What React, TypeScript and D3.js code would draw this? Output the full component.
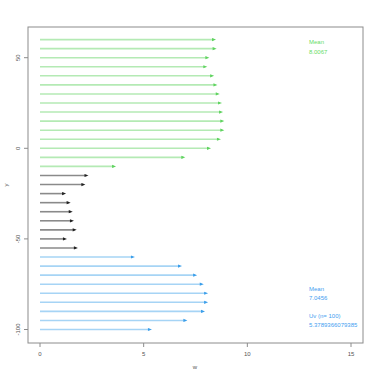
import React from "react";
import * as d3 from "d3";

const greenY = [60, 55, 50, 45, 40, 35, 30, 25, 20, 15, 10, 5, 0, -5, -10];
const greenX = [8.44, 8.47, 8.12, 8.02, 8.35, 8.51, 8.62, 8.73, 8.78, 8.84, 8.84, 8.68, 8.2, 6.96, 3.62];
const blackY = [-15, -20, -25, -30, -35, -40, -45, -50, -55];
const blackX = [2.29, 2.14, 1.21, 1.43, 1.53, 1.59, 1.72, 1.25, 1.78];
const blueY = [-60, -65, -70, -75, -80, -85, -90, -95, -100];
const blueX = [4.53, 6.8, 7.53, 7.85, 8.06, 8.06, 7.91, 7.06, 5.35];
const xTicks = [0, 5, 10, 15];
const yTicks = [50, 0, -50, -100];
const greenLabels = ["Mean", "8.0067"];
const blueLabels = ["Mean", "7.0456", "", "Uv (n= 100)", "5.3789366079385"];

export default function App() {
  const x = d3.scaleLinear().domain([0, 15]).range([40, 351]);
  const y = d3.scaleLinear().domain([0, 50]).range([148.3, 57.7]);
  const left = 28, right = 363, top = 27, bottom = 343;
  const font = "Liberation Sans, Arial, sans-serif";

  const series = [
    { ys: greenY, xs: greenX, line: "#b4eab4", head: "#5fd35f" },
    { ys: blackY, xs: blackX, line: "#8a8a8a", head: "#222" },
    { ys: blueY, xs: blueX, line: "#a6d4f5", head: "#3a9eea" },
  ];

  return (
    <svg width={378} height={378} style={{ position: "absolute", left: 0, top: 0 }}>
      <rect x={0} y={0} width={378} height={378} fill="#fff" />
      {series.map((s, si) =>
        s.ys.map((v, i) => {
          const x1 = x(0), x2 = x(s.xs[i]), yy = y(v);
          return (
            <g key={si + "-" + i}>
              <line x1={x1} x2={x2 - 1} y1={yy} y2={yy} stroke={s.line} strokeWidth={1.6} />
              <path d={`M${x2 + 1},${yy} L${x2 - 3},${yy - 1.6} L${x2 - 3},${yy + 1.6} Z`} fill={s.head} />
            </g>
          );
        })
      )}
      <rect x={left} y={top} width={right - left} height={bottom - top} fill="none" stroke="#8c8c8c" strokeWidth={1} />
      {xTicks.map((t) => (
        <g key={"x" + t}>
          <line x1={x(t)} x2={x(t)} y1={bottom} y2={bottom + 4} stroke="#8c8c8c" />
          <text x={x(t)} y={bottom + 13} fontSize={6} fontFamily={font} fill="#555" textAnchor="middle">{t}</text>
        </g>
      ))}
      {yTicks.map((t) => (
        <g key={"y" + t}>
          <line x1={left} x2={left - 4} y1={y(t)} y2={y(t)} stroke="#8c8c8c" />
          <text transform={`translate(${left - 8},${y(t)}) rotate(-90)`} fontSize={6} fontFamily={font} fill="#555" textAnchor="middle">{t}</text>
        </g>
      ))}
      <text x={195} y={369} fontSize={6} fontFamily={font} fill="#555" textAnchor="middle">w</text>
      <text transform={`translate(8,185) rotate(-90)`} fontSize={6} fontFamily={font} fill="#555" textAnchor="middle">y</text>
      {greenLabels.map((t, i) => (
        <text key={"g" + i} x={309} y={44 + i * 10} fontSize={6} fontFamily={font} fill="#66dd66">{t}</text>
      ))}
      {blueLabels.map((t, i) => (
        <text key={"b" + i} x={309} y={291 + i * 9} fontSize={6} fontFamily={font} fill="#3fa0f0">{t}</text>
      ))}
    </svg>
  );
}
